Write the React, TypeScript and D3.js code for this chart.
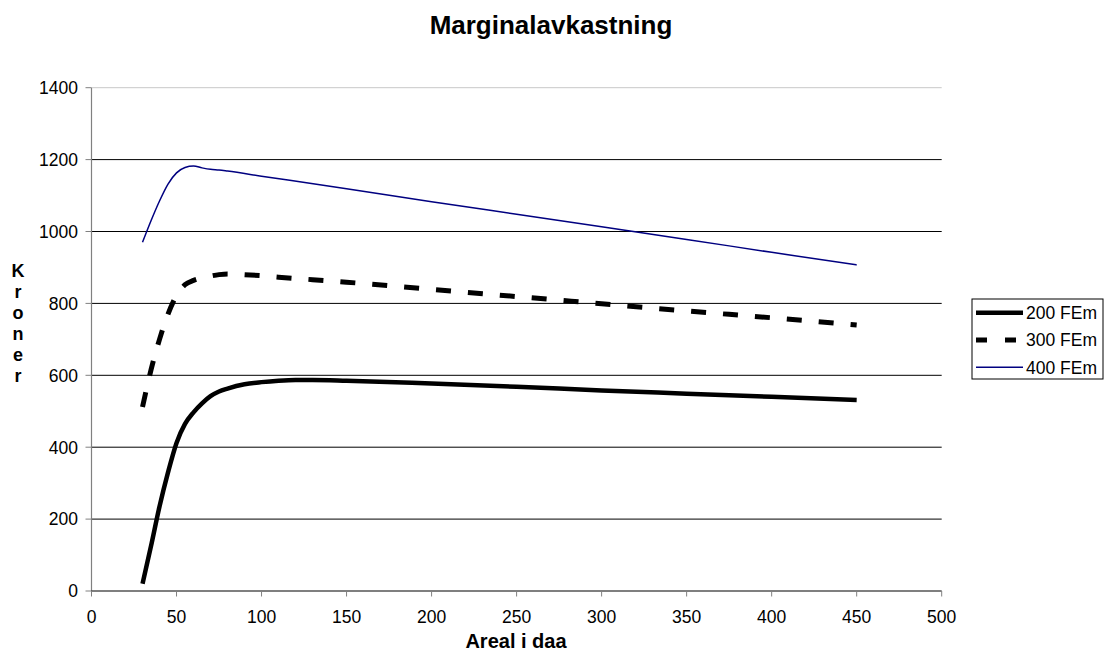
import React from "react";
import * as d3 from "d3";

const yTicks = [0, 200, 400, 600, 800, 1000, 1200, 1400];
const xTicks = [0, 50, 100, 150, 200, 250, 300, 350, 400, 450, 500];

const x200 = [30, 35, 40, 45, 50, 55, 60, 65, 70, 75, 80, 90, 100, 110, 120, 130, 150, 200, 250, 300, 350, 400, 450];
const v200 = [20, 125, 235, 330, 412, 465, 497, 522, 542, 555, 563, 575, 581, 585, 587, 587, 585, 577, 568, 558, 549, 540, 531];

const x300 = [30, 35, 40, 45, 50, 55, 60, 65, 70, 75, 80, 90, 100, 110, 130, 150, 200, 250, 300, 350, 400, 450];
const v300 = [512, 615, 700, 770, 822, 852, 864, 871, 876, 880, 882, 880, 877, 873, 866, 859, 839, 819, 799, 779, 760, 740];

const x400 = [30, 35, 40, 45, 50, 55, 60, 65, 70, 75, 80, 100, 150, 200, 250, 300, 350, 400, 450];
const v400 = [970, 1030, 1085, 1132, 1163, 1178, 1182, 1177, 1173, 1171, 1168, 1154, 1119, 1083, 1048, 1013, 978, 942, 907];

const seriesNames = ["200 FEm", "300 FEm", "400 FEm"];

const FONT = "'Liberation Sans', Arial, Helvetica, sans-serif";

export default function App() {
  const left = 91.5, right = 941.7, top = 87.7, bottom = 591;
  const xs = d3.scaleLinear().domain([0, 500]).range([left, right]);
  const ys = d3.scaleLinear().domain([0, 1400]).range([bottom, top]);

  const mk = (xa: number[], va: number[]) =>
    d3
      .line<number>()
      .x((_, i) => xs(xa[i]))
      .y((v) => ys(v))
      .curve(d3.curveMonotoneX)(va) || "";

  const series = [
    { name: seriesNames[0], d: mk(x200, v200), stroke: "#000", width: 4.5, dash: undefined as string | undefined, legDash: undefined as string | undefined },
    { name: seriesNames[1], d: mk(x300, v300), stroke: "#000", width: 5, dash: "15 17", legDash: "11 18" },
    { name: seriesNames[2], d: mk(x400, v400), stroke: "#000080", width: 1.5, dash: undefined, legDash: undefined },
  ];

  const legX = 972, legY = 299, legW = 131, legH = 80;
  const rowY = [312.7, 340, 367.3];
  const kroner = "Kroner".split("");

  return (
    <svg
      width={1107}
      height={662}
      style={{ position: "absolute", left: 0, top: 0, background: "#fff" }}
      fontFamily={FONT}
    >
      <rect x={0} y={0} width={1107} height={662} fill="#fff" />
      {yTicks.filter((t) => t > 0).map((t) => (
        <line
          key={"g" + t}
          x1={left}
          x2={right}
          y1={ys(t)}
          y2={ys(t)}
          stroke={t === 1400 ? "#c8c8c8" : "#000"}
          strokeWidth={1}
        />
      ))}
      <line x1={left} x2={left} y1={top} y2={bottom} stroke="#808080" strokeWidth={1.2} />
      {yTicks.map((t) => (
        <g key={"y" + t}>
          <line x1={left - 6} x2={left} y1={ys(t)} y2={ys(t)} stroke="#808080" strokeWidth={1} />
          <text x={78} y={ys(t)} dy="0.36em" textAnchor="end" fontSize={17.5} fill="#000">
            {t}
          </text>
        </g>
      ))}
      <line x1={left} x2={right} y1={bottom} y2={bottom} stroke="#000" strokeWidth={1.2} />
      {xTicks.map((t) => (
        <g key={"x" + t}>
          <line x1={xs(t)} x2={xs(t)} y1={bottom} y2={bottom + 5.5} stroke="#808080" strokeWidth={1} />
          <text x={xs(t)} y={623} textAnchor="middle" fontSize={17.5} fill="#000">
            {t}
          </text>
        </g>
      ))}
      {series.map((s) => (
        <path
          key={s.name}
          d={s.d}
          fill="none"
          stroke={s.stroke}
          strokeWidth={s.width}
          strokeDasharray={s.dash}
          strokeLinejoin="round"
        />
      ))}
      <text x={551} y={34} textAnchor="middle" fontSize={26} fontWeight="bold" fill="#000">
        Marginalavkastning
      </text>
      <text x={516} y={648} textAnchor="middle" fontSize={20} fontWeight="bold" fill="#000">
        Areal i daa
      </text>
      {kroner.map((c, i) => (
        <text key={"k" + i} x={18} y={271 + i * 21} dy="0.36em" textAnchor="middle" fontSize={18} fontWeight="bold" fill="#000">
          {c}
        </text>
      ))}
      <rect x={legX} y={legY} width={legW} height={legH} fill="#fff" stroke="#000" strokeWidth={1} />
      {series.map((s, i) => (
        <g key={"l" + i}>
          <line
            x1={976}
            x2={1023}
            y1={rowY[i]}
            y2={rowY[i]}
            stroke={s.stroke}
            strokeWidth={s.width}
            strokeDasharray={s.legDash}
          />
          <text x={1026} y={rowY[i]} dy="0.36em" fontSize={17.5} fill="#000">
            {s.name}
          </text>
        </g>
      ))}
    </svg>
  );
}
